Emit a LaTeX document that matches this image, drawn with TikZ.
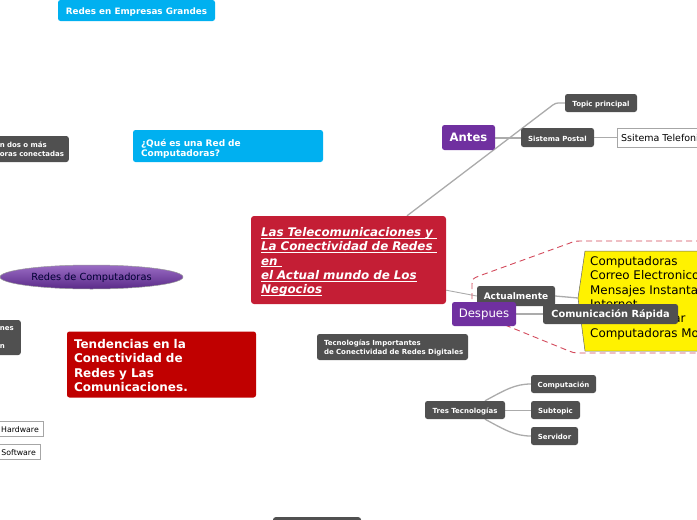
\documentclass[tikz,border=0pt]{standalone}
\usepackage{fontspec}
\setmainfont{DejaVu Sans}
\usetikzlibrary{shapes.geometric,backgrounds}
\definecolor{cblue}{HTML}{00B0F0}
\definecolor{cgray}{HTML}{505050}
\definecolor{cpurple}{HTML}{7030A0}
\definecolor{cred}{HTML}{C00000}
\definecolor{ccrim}{HTML}{C41E35}
\definecolor{cline}{HTML}{ABABAB}
\definecolor{cdash}{HTML}{D34A5C}
\definecolor{elltop}{HTML}{9A6CC4}
\definecolor{ellbot}{HTML}{5A2A88}
\newcommand{\fsz}[2]{\fontsize{#1}{#2}\selectfont}
\newcommand{\myul}[1]{\leavevmode\setbox0\hbox{#1}\rlap{\rule[-1.8pt]{\wd0}{0.7pt}}\box0}
\tikzset{
  gbox/.style={fill=cgray, rounded corners=2.5pt, text=white, font=\bfseries\fsz{7}{8.5}, inner sep=0pt},
  bbox/.style={fill=cblue, rounded corners=2.5pt, text=white, inner sep=0pt},
  pbox/.style={fill=cpurple, rounded corners=2.5pt, text=white, inner sep=0pt},
  wbox/.style={draw=black!35, fill=white, inner xsep=4pt, inner ysep=0pt},
  capalign/.style={text height=0.73em, text depth=0pt},
  conn/.style={draw=cline, line width=1.3pt},
  connthin/.style={draw=cline, line width=0.9pt},
  dashline/.style={draw=cdash, line width=0.9pt, dash pattern=on 6pt off 4pt},
}
\begin{document}
\begin{tikzpicture}[x=1pt,y=-1pt]
\useasboundingbox (0,0) rectangle (697,520);
% yellow callout and dashed boundary
\path[fill=yellow, draw=black!60, line width=0.5pt] (578,298) -- (585,251) -- (720,251) -- (720,351) -- (585,351) -- cycle;
\coordinate (ypt) at (578,298);
\node[anchor=north west, inner sep=0pt, align=left, font=\fsz{11.9}{14.4}] (ytext) at (590,256)
  {Computadoras\\Correo Electronico\\Mensajes Instantaneos\\Internet\\Telefono Celular\\Computadoras Moviles};
\draw[dashline] (472,309) -- (472,285) .. controls (472,279) .. (479,276) -- (570,243) .. controls (574,241.3) .. (580,241) -- (720,241);
\draw[dashline] (505,325) -- (569,351) .. controls (573,352.7) .. (580,353) -- (720,353);

% blue boxes
\node[bbox, capalign, minimum width=157pt, minimum height=21pt, font=\bfseries\fsz{8.8}{10}] (reg) at (136.5,10.5) {Redes en Empresas Grandes};
\node[bbox, minimum width=190pt, minimum height=32pt, text width=174pt, align=left, font=\bfseries\fsz{9}{10.5}] (que) at (228,146) {\rule{0pt}{12.5pt}\mbox{¿Qué es una Red de}\\\mbox{Computadoras?}};

% left cut boxes
\node[gbox, anchor=east, minimum height=26pt, text width=61pt, inner xsep=8pt, align=left, font=\bfseries\fsz{7}{9}] (lg1) at (69,149) {\mbox{n dos o más}\\\mbox{oras conectadas}};
\node[gbox, anchor=east, minimum height=35pt, text width=14pt, inner xsep=7pt, align=left] (lg2) at (21,337.5) {\mbox{nes}\\[9pt]\mbox{n}};

% ellipse
\node[ellipse, capalign, minimum width=183pt, minimum height=24pt, inner sep=0pt, top color=elltop, bottom color=ellbot, draw=black!40, line width=0.5pt, text=black!80!blue, font=\fsz{9.8}{11}] (rdc) at (91.5,277) {Redes de Computadoras};

% tendencias
\node[fill=cred, rounded corners=2.5pt, text=white, inner sep=0pt, minimum width=189pt, minimum height=66pt, text width=175pt, align=left, font=\bfseries\fsz{12}{14.5}] (ten) at (161.5,364.5)
  {\rule{0pt}{11pt}\mbox{Tendencias en la}\\\mbox{Conectividad de}\\\mbox{Redes y Las}\\\mbox{Comunicaciones.}};

% hardware / software
\node[wbox, capalign, anchor=east, minimum height=15pt, font=\fsz{7.8}{9}] (hw) at (43,428.5) {Hardware};
\node[wbox, capalign, anchor=east, minimum height=15pt, font=\fsz{7.8}{9}] (sw) at (40,451.5) {Software};

% bottom cut box
\node[gbox, anchor=north, minimum width=88pt, minimum height=20pt] (bot) at (317,517) {};

% central
\node[fill=ccrim, rounded corners=3pt, text=white, inner sep=0pt, minimum width=195pt, minimum height=88pt, text width=175pt, align=left, font=\bfseries\itshape\fsz{11.9}{14.3}] (cent) at (348.5,260)
  {\rule{0pt}{13pt}\myul{Las Telecomunicaciones y\ }\\\myul{La Conectividad de Redes\ }\\\myul{en\ }\\\myul{el Actual mundo de Los}\\\myul{Negocios}};

% antes branch
\node[pbox, capalign, minimum width=53pt, minimum height=25pt, font=\bfseries\fsz{11.6}{13}] (antes) at (468.5,137.5) {Antes};
\node[gbox, capalign, minimum width=72pt, minimum height=18pt] (tp) at (601,103) {Topic principal};
\node[gbox, capalign, minimum width=73pt, minimum height=19pt] (sp) at (557.5,137.5) {Sistema Postal};
\node[wbox, capalign, anchor=west, minimum height=19pt, font=\fsz{9.5}{11}] (st) at (617,137.5) {Ssitema Telefonico};

% despues branch
\node[gbox, capalign, minimum width=78pt, minimum height=20pt, font=\bfseries\fsz{9}{10}] (act) at (516,296) {Actualmente};
\node[pbox, capalign, minimum width=64pt, minimum height=24pt, font=\fsz{11.7}{13}] (desp) at (484,314) {Despues};
\node[gbox, capalign, minimum width=135pt, minimum height=20pt, font=\bfseries\fsz{9.8}{11}] (com) at (610.5,314) {Comunicación Rápida};

% tecnologias
\node[gbox, minimum width=151pt, minimum height=26pt, text width=137pt, align=left, font=\bfseries\fsz{7}{9}] (tec) at (392.5,347) {\rule{0pt}{8.3pt}\mbox{Tecnologías Importantes}\\\mbox{de Conectividad de Redes Digitales}};
\node[gbox, capalign, minimum width=80pt, minimum height=18pt] (tres) at (465,410) {Tres Tecnologías};
\node[gbox, capalign, minimum width=65pt, minimum height=18pt] (cpt) at (563.5,384) {Computación};
\node[gbox, capalign, minimum width=49pt, minimum height=18pt] (sub) at (555.5,410) {Subtopic};
\node[gbox, capalign, minimum width=47pt, minimum height=18pt] (ser) at (554.5,436) {Servidor};

% connectors
\begin{scope}[on background layer]
\draw[conn] ([xshift=58.5pt]cent.north) -- ([xshift=-12pt,yshift=-2pt]tp.west) to[out=37,in=180] (tp.west);
\draw[conn, line width=2pt] (antes.east) -- (sp.west);
\draw[connthin] (sp.east) -- (st.west);
\draw[connthin] ([yshift=14pt]cent.south east) -- (act.west);
\draw[conn] (act.east) -- (ypt);
\draw[conn, line width=2pt] (desp.east) -- (com.west);
\draw[conn] ([xshift=20pt]tres.north) .. controls (505,390) and (515,384) .. (cpt.west);
\draw[connthin] (tres.east) -- (sub.west);
\draw[conn] ([xshift=20pt]tres.south) .. controls (505,430) and (515,436) .. (ser.west);
\end{scope}
\end{tikzpicture}
\end{document}
